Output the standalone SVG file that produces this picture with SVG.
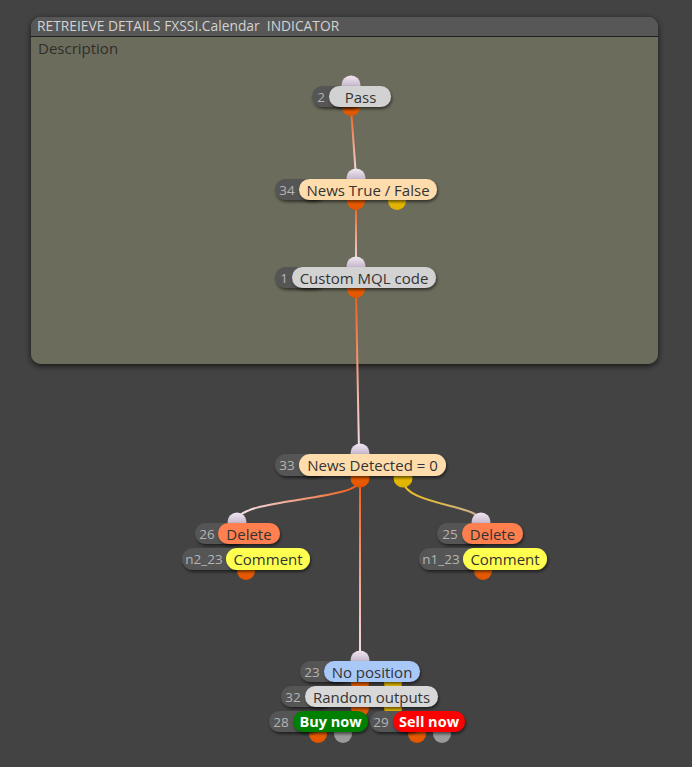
<svg xmlns="http://www.w3.org/2000/svg" width="692" height="767" viewBox="0 0 692 767">
<defs>
<style>
.t{font-family:"Open Sans","Noto Sans",sans-serif;font-size:15px;fill:#333;text-anchor:middle;dominant-baseline:central}
.id{font-family:"Open Sans","Noto Sans",sans-serif;font-size:13.5px;fill:#b4b4b4;text-anchor:middle;dominant-baseline:central}
.idp{fill:#555555}
.pill{filter:url(#sh)}
.w{fill:#fff;font-weight:bold;font-size:14.5px}
.hdr{font-family:"Open Sans","Noto Sans",sans-serif;font-size:13.8px;fill:#d2d2d2;white-space:pre}
.desc{font-family:"Open Sans","Noto Sans",sans-serif;font-size:15px;fill:#2e2e2a}
.in{fill:url(#gin)}
.out{fill:url(#gout)}
.yel{fill:url(#gyel)}
.gry{fill:#9a9a9a}
.c{fill:none;stroke-width:2}
</style>
<filter id="sh" x="-20%" y="-40%" width="140%" height="200%">
<feDropShadow dx="1" dy="2" stdDeviation="1.6" flood-color="#000" flood-opacity="0.55"/>
</filter>
<filter id="gsh" x="-5%" y="-5%" width="110%" height="115%">
<feDropShadow dx="0" dy="2" stdDeviation="3" flood-color="#000" flood-opacity="0.7"/>
</filter>
<linearGradient id="gin" x1="0" y1="0" x2="0" y2="1">
<stop offset="0" stop-color="#f2e6f2"/><stop offset="1" stop-color="#a494ae"/>
</linearGradient>
<linearGradient id="gout" x1="0" y1="0" x2="0" y2="1">
<stop offset="0" stop-color="#c04800"/><stop offset="0.5" stop-color="#ec5e00"/><stop offset="1" stop-color="#e05400"/>
</linearGradient>
<linearGradient id="gyel" x1="0" y1="0" x2="0" y2="1">
<stop offset="0" stop-color="#b89000"/><stop offset="0.5" stop-color="#e8bc00"/><stop offset="1" stop-color="#dcb000"/>
</linearGradient>
<linearGradient id="c1" gradientUnits="userSpaceOnUse" x1="0" y1="108" x2="0" y2="177">
<stop offset="0" stop-color="#f05a14"/><stop offset="1" stop-color="#f4e4f0"/>
</linearGradient>
<linearGradient id="c2" gradientUnits="userSpaceOnUse" x1="0" y1="203" x2="0" y2="266">
<stop offset="0" stop-color="#f05a14"/><stop offset="1" stop-color="#f4e4f0"/>
</linearGradient>
<linearGradient id="c3" gradientUnits="userSpaceOnUse" x1="0" y1="291" x2="0" y2="452">
<stop offset="0" stop-color="#f05a14"/><stop offset="1" stop-color="#f4e4f0"/>
</linearGradient>
<linearGradient id="c4" gradientUnits="userSpaceOnUse" x1="360" y1="0" x2="237" y2="0">
<stop offset="0" stop-color="#f05a14"/><stop offset="1" stop-color="#f4e4f0"/>
</linearGradient>
<linearGradient id="c5" gradientUnits="userSpaceOnUse" x1="0" y1="478" x2="0" y2="660">
<stop offset="0" stop-color="#f05a14"/><stop offset="1" stop-color="#f4e4f0"/>
</linearGradient>
<linearGradient id="c6" gradientUnits="userSpaceOnUse" x1="403" y1="0" x2="481" y2="0">
<stop offset="0" stop-color="#f0c018"/><stop offset="1" stop-color="#c8b094"/>
</linearGradient>
</defs>
<rect width="692" height="767" fill="#434343"/>

<g id="group-box">
<rect x="31" y="17" width="627" height="347" rx="10" fill="#6c6c5c" filter="url(#gsh)"/>
<path d="M31 36 V27 A10 10 0 0 1 41 17 H648 A10 10 0 0 1 658 27 V36 Z" fill="#575757"/>
<line x1="31" y1="36.5" x2="658" y2="36.5" stroke="#1e1e1e" stroke-width="1"/>
<text class="hdr" x="37" y="31">RETREIEVE DETAILS FXSSI.Calendar  INDICATOR</text>
<text class="desc" x="38" y="54">Description</text>
</g>

<g id="connectors">
<path class="c" stroke="url(#c1)" d="M351 108 L356 177"/>
<path class="c" stroke="url(#c2)" d="M356 203 L356 266"/>
<path class="c" stroke="url(#c3)" d="M356 291 L359 452"/>
<path class="c" stroke="url(#c4)" d="M360 480 C360 501 237 498 237 521"/>
<path class="c" stroke="url(#c5)" d="M360 480 L360 660"/>
<path class="c" stroke="url(#c6)" d="M403 480 C403 505 481 505 481 521"/>
</g>

<g id="node-2">
<circle class="in" cx="351" cy="85" r="9.5"/>
<circle class="out" cx="351" cy="107" r="9"/>
<rect class="idp pill" x="312" y="86" width="50" height="21" rx="10.5"/>
<text class="id" x="321" y="96.5">2</text>
<rect class="pill" x="329" y="86" width="62" height="21" rx="10.5" fill="#d2d2d2"/>
<text class="t" x="360.5" y="96.5">Pass</text>
</g>

<g id="node-34">
<circle class="in" cx="356" cy="178" r="9.5"/>
<circle class="out" cx="356" cy="201" r="9"/>
<circle class="yel" cx="397" cy="201" r="9"/>
<rect class="idp pill" x="275" y="179" width="50" height="21" rx="10.5"/>
<text class="id" x="287" y="189.5">34</text>
<rect class="pill" x="299" y="179" width="138" height="21" rx="10.5" fill="#ffdcac"/>
<text class="t" x="368" y="189.5">News True / False</text>
</g>

<g id="node-1">
<circle class="in" cx="356" cy="266" r="9.5"/>
<circle class="out" cx="356" cy="289" r="9"/>
<rect class="idp pill" x="275" y="267" width="50" height="21" rx="10.5"/>
<text class="id" x="284" y="277.5">1</text>
<rect class="pill" x="292" y="267" width="144" height="21" rx="10.5" fill="#d2d2d2"/>
<text class="t" x="364" y="277.5">Custom MQL code</text>
</g>

<g id="node-33">
<circle class="in" cx="360" cy="453" r="9.5"/>
<circle class="out" cx="360" cy="478" r="9.5"/>
<circle class="yel" cx="403" cy="478" r="9.5"/>
<rect class="idp pill" x="275" y="454" width="50" height="22" rx="11"/>
<text class="id" x="287" y="465">33</text>
<rect class="pill" x="299" y="454" width="147" height="22" rx="11" fill="#ffdcac"/>
<text class="t" x="372.5" y="465">News Detected = 0</text>
</g>

<g id="node-26">
<circle class="in" cx="237" cy="522" r="9.5"/>
<rect class="idp pill" x="195" y="523" width="50" height="21" rx="10.5"/>
<text class="id" x="207" y="533.5">26</text>
<rect class="pill" x="218" y="523" width="62" height="21" rx="10.5" fill="#ff7f50"/>
<text class="t" x="249" y="533.5">Delete</text>
</g>

<g id="node-n2_23">
<circle class="out" cx="246" cy="571" r="9"/>
<rect class="idp pill" x="182" y="548" width="60" height="22" rx="11"/>
<text class="id" x="204" y="559">n2_23</text>
<rect class="pill" x="226" y="548" width="84" height="22" rx="11" fill="#ffff50"/>
<text class="t" x="268" y="559">Comment</text>
</g>

<g id="node-25">
<circle class="in" cx="481" cy="522" r="9.5"/>
<rect class="idp pill" x="437" y="523" width="50" height="21" rx="10.5"/>
<text class="id" x="450" y="533.5">25</text>
<rect class="pill" x="462" y="523" width="61" height="21" rx="10.5" fill="#ff7f50"/>
<text class="t" x="492.5" y="533.5">Delete</text>
</g>

<g id="node-n1_23">
<circle class="out" cx="483" cy="571" r="9"/>
<rect class="idp pill" x="419" y="548" width="60" height="22" rx="11"/>
<text class="id" x="441" y="559">n1_23</text>
<rect class="pill" x="463" y="548" width="84" height="22" rx="11" fill="#ffff50"/>
<text class="t" x="505" y="559">Comment</text>
</g>

<g id="node-23">
<circle class="in" cx="360" cy="660" r="9.5"/>
<circle class="out" cx="360" cy="683" r="9"/>
<circle class="yel" cx="393" cy="683" r="9"/>
<rect class="idp pill" x="300" y="661" width="50" height="21" rx="10.5"/>
<text class="id" x="312" y="671.5">23</text>
<rect class="pill" x="324" y="661" width="96" height="21" rx="10.5" fill="#a8c8f8"/>
<text class="t" x="372" y="671.5">No position</text>
</g>

<g id="node-32">
<circle class="out" cx="360" cy="708" r="9"/>
<circle class="yel" cx="393" cy="708" r="9"/>
<rect class="idp pill" x="281" y="686" width="50" height="21" rx="10.5"/>
<text class="id" x="293" y="696.5">32</text>
<rect class="pill" x="305" y="686" width="133" height="21" rx="10.5" fill="#d8d8d8"/>
<text class="t" x="371.5" y="696.5">Random outputs</text>
</g>

<g id="node-28">
<circle class="out" cx="318" cy="734" r="9"/>
<circle class="gry" cx="343" cy="734" r="9"/>
<rect class="idp pill" x="269" y="711" width="50" height="21" rx="10.5"/>
<text class="id" x="281" y="721.5">28</text>
<rect class="pill" x="293" y="711" width="75" height="21" rx="10.5" fill="#008000"/>
<text class="t w" x="330.5" y="721.5">Buy now</text>
</g>

<g id="node-29">
<circle class="out" cx="417" cy="734" r="9"/>
<circle class="gry" cx="442" cy="734" r="9"/>
<rect class="idp pill" x="370" y="711" width="50" height="21" rx="10.5"/>
<text class="id" x="381" y="721.5">29</text>
<rect class="pill" x="393" y="711" width="72" height="21" rx="10.5" fill="#ff0000"/>
<text class="t w" x="429" y="721.5">Sell now</text>
</g>
</svg>
